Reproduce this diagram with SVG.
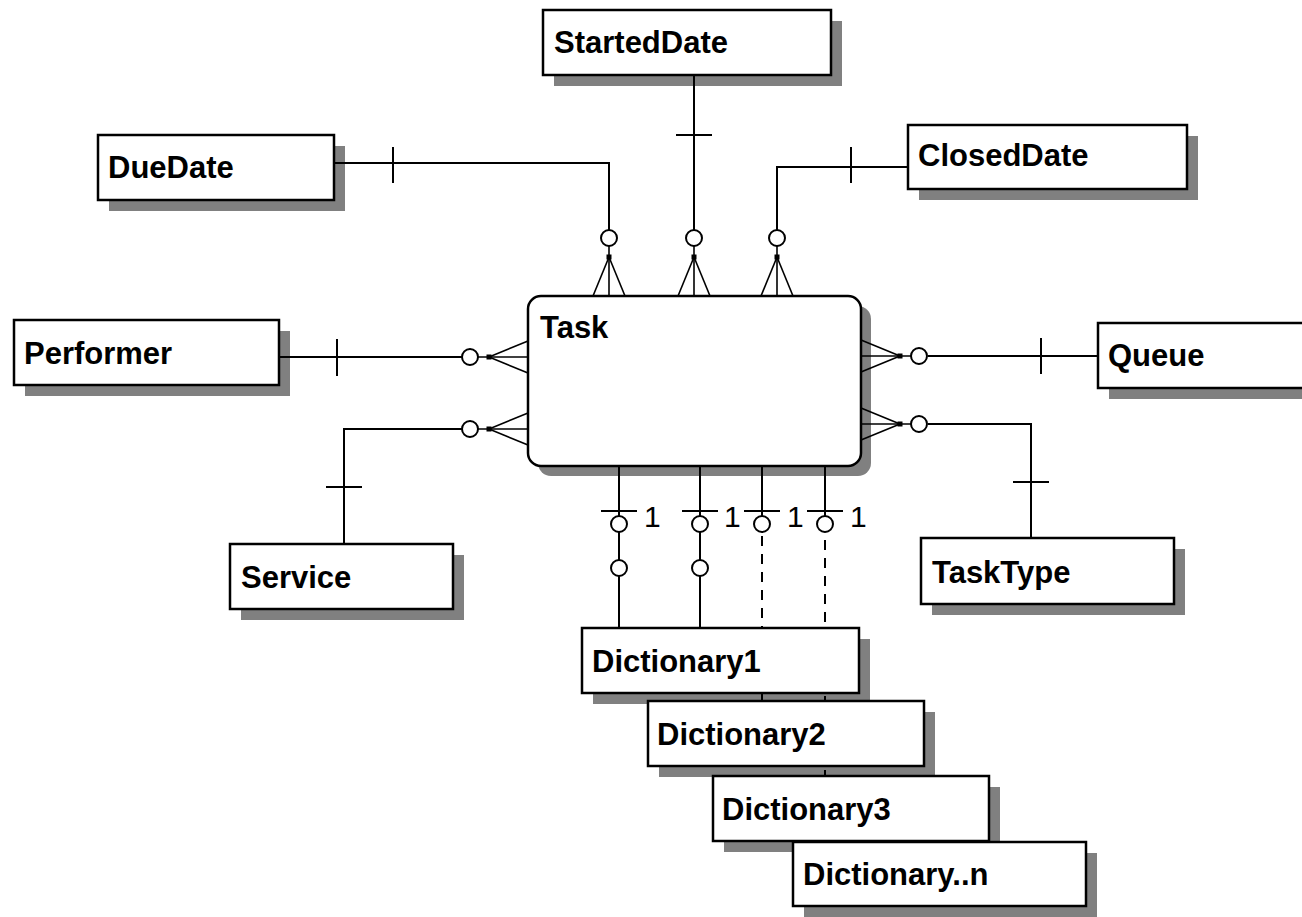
<svg xmlns="http://www.w3.org/2000/svg" xmlns:xlink="http://www.w3.org/1999/xlink" width="1302" height="917" viewBox="0 0 1302 917">
  <style>
    .shadow { fill: #808080; stroke: none; }
    .box { fill: #ffffff; stroke: #000000; stroke-width: 2.5; }
    .label { font-family: "Liberation Sans", Arial, sans-serif; font-weight: bold; font-size: 31px; fill: #000000; }
    .card { font-family: "Liberation Sans", Arial, sans-serif; font-size: 30px; fill: #000000; }
    .line { fill: none; stroke: #000000; stroke-width: 2; }
    .dash { fill: none; stroke: #000000; stroke-width: 2; stroke-dasharray: 10 8; }
    .ring { fill: #ffffff; stroke: #000000; stroke-width: 2; }
    .foot { fill: none; stroke: #000000; stroke-width: 1.6; }
  </style>
  <defs>
    <!-- zero-or-many end: origin sits on the entity edge, symbol points toward -y -->
    <g id="zero-many">
      <line class="foot" x1="-16" y1="0" x2="0" y2="-39"/>
      <line class="foot" x1="0" y1="0" x2="0" y2="-50"/>
      <line class="foot" x1="16" y1="0" x2="0" y2="-39"/>
      <rect x="-2.5" y="-41.5" width="5" height="5" fill="#000000"/>
      <circle class="ring" cx="0" cy="-58" r="8"/>
    </g>
    <!-- zero-or-one end on the bottom relationships -->
    <g id="zero-one">
      <line class="line" x1="-18" y1="0" x2="18" y2="0"/>
      <circle class="ring" cx="0" cy="13" r="8"/>
    </g>
  </defs>

  <rect width="1302" height="917" fill="#ffffff"/>

  <!-- entities -->
  <g id="node-starteddate">
    <rect class="shadow" x="554" y="21" width="288" height="65"/>
    <rect class="box" x="543" y="10" width="288" height="65"/>
    <text class="label" x="554" y="53">StartedDate</text>
  </g>
  <g id="node-duedate">
    <rect class="shadow" x="109" y="146" width="236" height="65"/>
    <rect class="box" x="98" y="135" width="236" height="65"/>
    <text class="label" x="108" y="178">DueDate</text>
  </g>
  <g id="node-closeddate">
    <rect class="shadow" x="919" y="136" width="279" height="64"/>
    <rect class="box" x="908" y="125" width="279" height="64"/>
    <text class="label" x="918" y="166">ClosedDate</text>
  </g>
  <g id="node-performer">
    <rect class="shadow" x="25" y="331" width="265" height="65"/>
    <rect class="box" x="14" y="320" width="265" height="65"/>
    <text class="label" x="24" y="364">Performer</text>
  </g>
  <g id="node-service">
    <rect class="shadow" x="241" y="555" width="223" height="65"/>
    <rect class="box" x="230" y="544" width="223" height="65"/>
    <text class="label" x="241" y="588">Service</text>
  </g>
  <g id="node-queue">
    <rect class="shadow" x="1109" y="334" width="230" height="65"/>
    <rect class="box" x="1098" y="323" width="230" height="65"/>
    <text class="label" x="1108" y="366">Queue</text>
  </g>
  <g id="node-tasktype">
    <rect class="shadow" x="932" y="549" width="253" height="66"/>
    <rect class="box" x="921" y="538" width="253" height="66"/>
    <text class="label" x="932" y="583">TaskType</text>
  </g>
  <g id="node-task">
    <rect class="shadow" x="538" y="306" width="333" height="170" rx="13" ry="13"/>
    <rect class="box" x="528" y="296" width="333" height="170" rx="13" ry="13"/>
    <text class="label" x="540" y="338">Task</text>
  </g>
  <g id="node-dictionary1">
    <rect class="shadow" x="593" y="639" width="277" height="65"/>
    <rect class="box" x="582" y="628" width="277" height="65"/>
    <text class="label" x="592" y="672">Dictionary1</text>
  </g>
  <g id="node-dictionary2">
    <rect class="shadow" x="659" y="712" width="276" height="65"/>
    <rect class="box" x="648" y="701" width="276" height="65"/>
    <text class="label" x="657" y="745">Dictionary2</text>
  </g>
  <g id="node-dictionary3">
    <rect class="shadow" x="724" y="787" width="276" height="65"/>
    <rect class="box" x="713" y="776" width="276" height="65"/>
    <text class="label" x="722" y="820">Dictionary3</text>
  </g>
  <g id="node-dictionaryn">
    <rect class="shadow" x="804" y="853" width="293" height="64"/>
    <rect class="box" x="793" y="842" width="293" height="64"/>
    <text class="label" x="803" y="885">Dictionary..n</text>
  </g>

  <!-- relationships -->
  <g id="connectors">
    <!-- DueDate -> Task -->
    <polyline class="line" points="334,163 609,163 609,230"/>
    <line class="line" x1="393" y1="147" x2="393" y2="183"/>
    <use xlink:href="#zero-many" href="#zero-many" transform="translate(609,296)"/>

    <!-- StartedDate -> Task -->
    <line class="line" x1="694" y1="75" x2="694" y2="230"/>
    <line class="line" x1="676" y1="135" x2="712" y2="135"/>
    <use xlink:href="#zero-many" href="#zero-many" transform="translate(694,296)"/>

    <!-- ClosedDate -> Task -->
    <polyline class="line" points="908,167 777,167 777,230"/>
    <line class="line" x1="851" y1="147" x2="851" y2="183"/>
    <use xlink:href="#zero-many" href="#zero-many" transform="translate(777,296)"/>

    <!-- Performer -> Task -->
    <line class="line" x1="279" y1="357" x2="462" y2="357"/>
    <line class="line" x1="337" y1="339" x2="337" y2="376"/>
    <use xlink:href="#zero-many" href="#zero-many" transform="translate(528,357) rotate(-90)"/>

    <!-- Service -> Task -->
    <polyline class="line" points="462,429 344,429 344,544"/>
    <line class="line" x1="326" y1="487" x2="362" y2="487"/>
    <use xlink:href="#zero-many" href="#zero-many" transform="translate(528,429) rotate(-90)"/>

    <!-- Queue -> Task -->
    <line class="line" x1="928" y1="356" x2="1098" y2="356"/>
    <line class="line" x1="1041" y1="338" x2="1041" y2="374"/>
    <use xlink:href="#zero-many" href="#zero-many" transform="translate(861,356) rotate(90)"/>

    <!-- TaskType -> Task -->
    <polyline class="line" points="928,424 1031,424 1031,538"/>
    <line class="line" x1="1013" y1="482" x2="1049" y2="482"/>
    <use xlink:href="#zero-many" href="#zero-many" transform="translate(861,424) rotate(90)"/>

    <!-- Task -> Dictionary1 (identifying) -->
    <line class="line" x1="619" y1="466" x2="619" y2="516"/>
    <use xlink:href="#zero-one" href="#zero-one" transform="translate(619,511)"/>
    <line class="line" x1="619" y1="532" x2="619" y2="560"/>
    <circle class="ring" cx="619" cy="568" r="8"/>
    <line class="line" x1="619" y1="576" x2="619" y2="628"/>

    <line class="line" x1="700" y1="466" x2="700" y2="516"/>
    <use xlink:href="#zero-one" href="#zero-one" transform="translate(700,511)"/>
    <line class="line" x1="700" y1="532" x2="700" y2="560"/>
    <circle class="ring" cx="700" cy="568" r="8"/>
    <line class="line" x1="700" y1="576" x2="700" y2="628"/>

    <!-- Task -> Dictionary2 (non-identifying) -->
    <line class="line" x1="762" y1="466" x2="762" y2="516"/>
    <use xlink:href="#zero-one" href="#zero-one" transform="translate(762,511)"/>
    <line class="dash" x1="762" y1="536" x2="762" y2="628"/>
    <line class="line" x1="762" y1="693" x2="762" y2="701"/>

    <!-- Task -> Dictionary3 (non-identifying) -->
    <line class="line" x1="825" y1="466" x2="825" y2="516"/>
    <use xlink:href="#zero-one" href="#zero-one" transform="translate(825,511)"/>
    <line class="dash" x1="825" y1="540" x2="825" y2="628"/>
    <line class="line" x1="825" y1="696" x2="825" y2="701"/>
    <line class="line" x1="825" y1="770" x2="825" y2="776"/>

    <!-- cardinality labels -->
    <text class="card" x="644" y="527">1</text>
    <text class="card" x="724" y="527">1</text>
    <text class="card" x="787" y="527">1</text>
    <text class="card" x="850" y="527">1</text>
  </g>
</svg>
